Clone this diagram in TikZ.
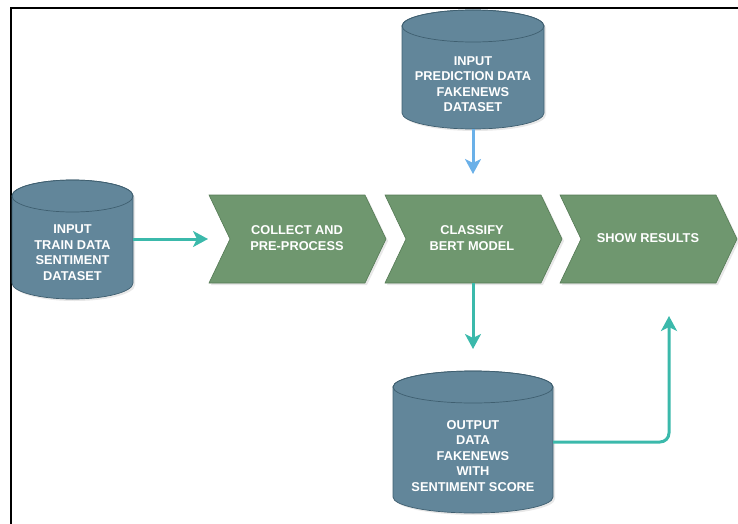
\documentclass[tikz,border=0pt]{standalone}
\usepackage{fontspec}
\setmainfont{Liberation Sans}
\usetikzlibrary{arrows.meta,shadows}
\definecolor{cylfill}{HTML}{62869A}
\definecolor{cylline}{HTML}{3F5F70}
\definecolor{chfill}{HTML}{6F976F}
\definecolor{chline}{HTML}{557A55}
\definecolor{teal}{HTML}{3BB9AB}
\definecolor{lblue}{HTML}{6AB0E8}
\tikzset{
  cylshape/.style={fill=cylfill,draw=cylline,line width=0.7pt,
    drop shadow={opacity=0.18,shadow xshift=2pt,shadow yshift=-2pt}},
  cylline/.style={draw=cylline,line width=0.7pt},
  chshape/.style={fill=chfill,draw=chline,line width=0.6pt,
    drop shadow={opacity=0.18,shadow xshift=2pt,shadow yshift=-2pt}},
  lbl/.style={text=white,align=center,inner sep=0pt,
    font=\bfseries\fontsize{12.8}{15.5}\selectfont},
  conn/.style={draw=teal,line width=3pt,-{Stealth[length=15pt,width=16pt,inset=4pt]}},
  connb/.style={draw=lblue,line width=3pt,-{Stealth[length=15pt,width=16pt,inset=4pt]}},
  frame/.style={draw=black,line width=2pt}
}
\newcommand\mycyl[7]{%
  \path[cylshape] (#2-#5,#3) -- (#2-#5,#4)
    arc[start angle=180,end angle=0,x radius=#5,y radius=16]
    -- (#2+#5,#3)
    arc[start angle=0,end angle=-180,x radius=#5,y radius=16] -- cycle;
  \draw[cylline] (#2,#3) ellipse[x radius=#5,y radius=16];
  \node[lbl] (#1) at (#2,#6) {#7};
}
\newcommand\mychev[4]{% name, left x, text center x, text
  \path[chshape] (#2,195) -- (#2+156,195) -- (#2+177,239) -- (#2+156,283)
    -- (#2,283) -- (#2+21,239) -- cycle;
  \node[lbl] (#1) at (#3,238) {#4};
}
\begin{document}
\begin{tikzpicture}[x=1pt,y=-1pt]
\useasboundingbox (0,0) rectangle (738,524);
\draw[frame] (11,524) -- (11,8.3) -- (738,8.3);

% cylinders
\mycyl{pcyl}{473}{26}{113}{71}{84}{INPUT\\PREDICTION DATA\\FAKENEWS\\DATASET}
\mycyl{tcyl}{72.5}{196}{283}{60.5}{252.5}{INPUT\\TRAIN DATA\\SENTIMENT\\DATASET}
\mycyl{ocyl}{473}{387}{497}{80}{456}{OUTPUT\\DATA\\FAKENEWS\\WITH\\SENTIMENT SCORE}

% chevrons
\mychev{ch1}{209}{297}{COLLECT AND\\PRE-PROCESS}
\mychev{ch2}{385}{472}{CLASSIFY\\BERT MODEL}
\mychev{ch3}{560}{648}{SHOW RESULTS}

% connector anchors
\coordinate (pcyl-s) at (473,129);
\coordinate (pend) at (473,174);
\coordinate (tcyl-e) at (133,239);
\coordinate (ch1-w) at (208,239);
\coordinate (ch2-s) at (473,283);
\coordinate (dend) at (473,349);
\coordinate (ocyl-e) at (553,442);
\coordinate (uend) at (669,316);

\draw[connb] (pcyl-s) -- (pend);
\draw[conn] (tcyl-e) -- (ch1-w);
\draw[conn] (ch2-s) -- (dend);
\draw[conn,rounded corners=9pt] (ocyl-e) -| (uend);
\end{tikzpicture}
\end{document}
